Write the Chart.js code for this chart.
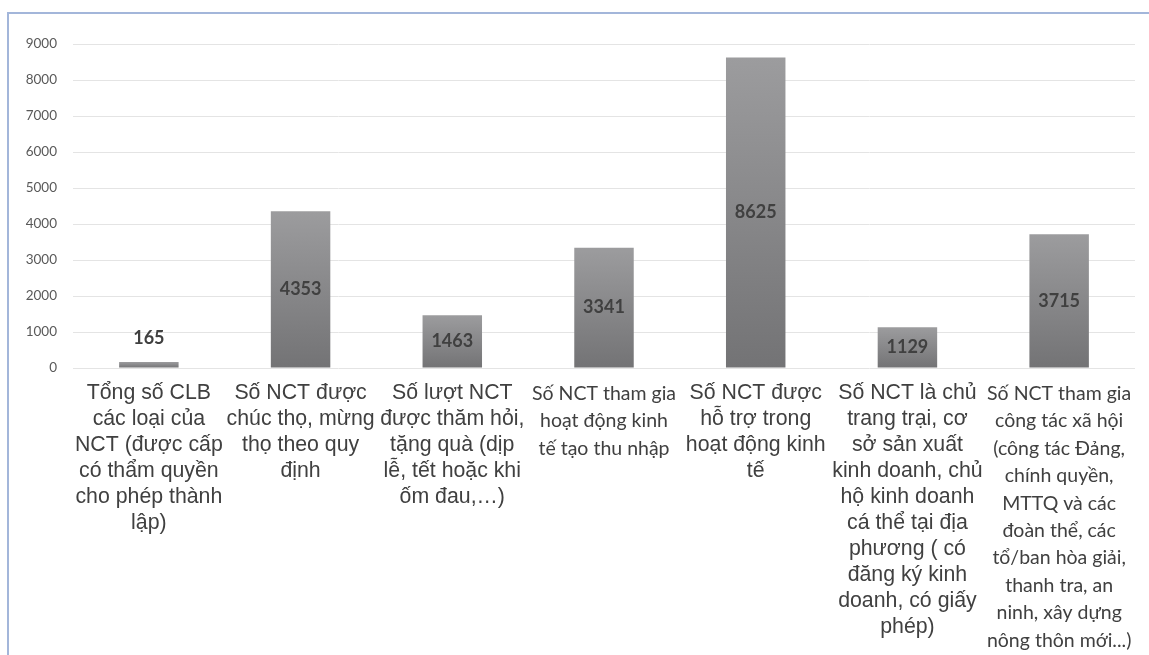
<!DOCTYPE html>
<html>
<head>
<meta charset="utf-8">
<script src="https://cdn.jsdelivr.net/npm/chart.js@4/dist/chart.umd.min.js"></script>
<style>
  html, body { margin: 0; padding: 0; background: #ffffff; }
  #wrap { position: absolute; left: 0; top: 0; width: 1149px; height: 655px; overflow: hidden; }
  #frame { position: absolute; left: 7px; top: 12px; right: 0; bottom: 0;
           border-left: 2px solid #a3b6da; border-top: 2px solid #a3b6da; }
  #c { position: absolute; left: 0; top: 0; }
</style>
</head>
<body>
<div id="wrap">
  <div id="frame"></div>
  <canvas id="c" width="1149" height="655"></canvas>
</div>
<script>
// Category labels, one line per array entry
const categories = [
  ["Tổng số CLB", "các loại của", "NCT (được cấp", "có thẩm quyền", "cho phép thành", "lập)"],
  ["Số NCT được", "chúc thọ, mừng", "thọ theo quy", "định"],
  ["Số lượt NCT", "được thăm hỏi,", "tặng quà (dịp", "lễ, tết hoặc khi", "ốm đau,…)"],
  ["Số NCT tham gia", "hoạt động kinh", "tế tạo thu nhập"],
  ["Số NCT được", "hỗ trợ trong", "hoạt động kinh", "tế"],
  ["Số NCT là chủ", "trang trại, cơ", "sở sản xuất", "kinh doanh, chủ", "hộ kinh doanh", "cá thể tại địa", "phương ( có", "đăng ký kinh", "doanh, có giấy", "phép)"],
  ["Số NCT tham gia", "công tác xã hội", "(công tác Đảng,", "chính quyền,", "MTTQ và các", "đoàn thể, các", "tổ/ban hòa giải,", "thanh tra, an", "ninh, xây dựng", "nông thôn mới...)"]
];
const values = [165, 4353, 1463, 3341, 8625, 1129, 3715];
const yMax = 9000;
const yStep = 1000;

// Labels set in the rounder face
const roundFaceTicks = [3, 6];

// Value labels: centred in the bar, or above it when the bar is too short
const valueLabels = {
  id: 'valueLabels',
  afterDatasetsDraw(chart) {
    const { ctx } = chart;
    const meta = chart.getDatasetMeta(0);
    const data = chart.data.datasets[0].data;
    ctx.save();
    ctx.font = 'bold 18px Lato';
    ctx.fillStyle = '#404040';
    ctx.textAlign = 'center';
    ctx.textBaseline = 'middle';
    meta.data.forEach((bar, i) => {
      const h = bar.base - bar.y;
      const y = h > 30 ? (bar.y + bar.base) / 2 : bar.y - 24;
      ctx.fillText(String(data[i]), bar.x, y);
    });
    ctx.restore();
  }
};

new Chart(document.getElementById('c'), {
  type: 'bar',
  data: {
    labels: categories,
    datasets: [{
      data: values,
      backgroundColor: (c) => {
        const ch = c.chart;
        const ys = ch.scales && ch.scales.y;
        if (!ys || c.type !== 'data') return '#888889';
        const top = ys.getPixelForValue(c.raw);
        const base = ys.getPixelForValue(0);
        if (!isFinite(top) || !isFinite(base) || base - top < 1) return '#888889';
        const g = ch.ctx.createLinearGradient(0, top, 0, base);
        g.addColorStop(0, '#9c9c9e');
        g.addColorStop(1, '#737375');
        return g;
      },
      borderWidth: 0,
      barPercentage: 0.8,
      categoryPercentage: 0.49
    }]
  },
  options: {
    responsive: false,
    animation: false,
    devicePixelRatio: 1,
    layout: { padding: { top: 44, right: 14, bottom: 0, left: 0 } },
    plugins: {
      legend: { display: false },
      tooltip: { enabled: false },
      title: { display: false }
    },
    scales: {
      x: {
        grid: { display: false },
        border: { display: false },
        ticks: {
          autoSkip: false,
          maxRotation: 0,
          minRotation: 0,
          padding: 4,
          color: '#404040',
          font: (c) => roundFaceTicks.includes(c.index)
            ? { family: 'Lato', size: 19.5, lineHeight: 1.405 }
            : { family: 'Liberation Sans, Arial', size: 21.3, lineHeight: 1.22 }
        },
        afterFit: (s) => { s.height = 287; }
      },
      y: {
        min: 0,
        max: yMax,
        grid: { color: '#e4e4e4', lineWidth: 1, drawTicks: false },
        border: { display: false },
        ticks: {
          stepSize: yStep,
          padding: 16,
          color: '#595959',
          font: { family: 'Lato', size: 13.5 },
          callback: (v) => String(v)
        },
        afterFit: (s) => { s.width = 73; }
      }
    }
  },
  plugins: [valueLabels]
});
</script>
</body>
</html>
